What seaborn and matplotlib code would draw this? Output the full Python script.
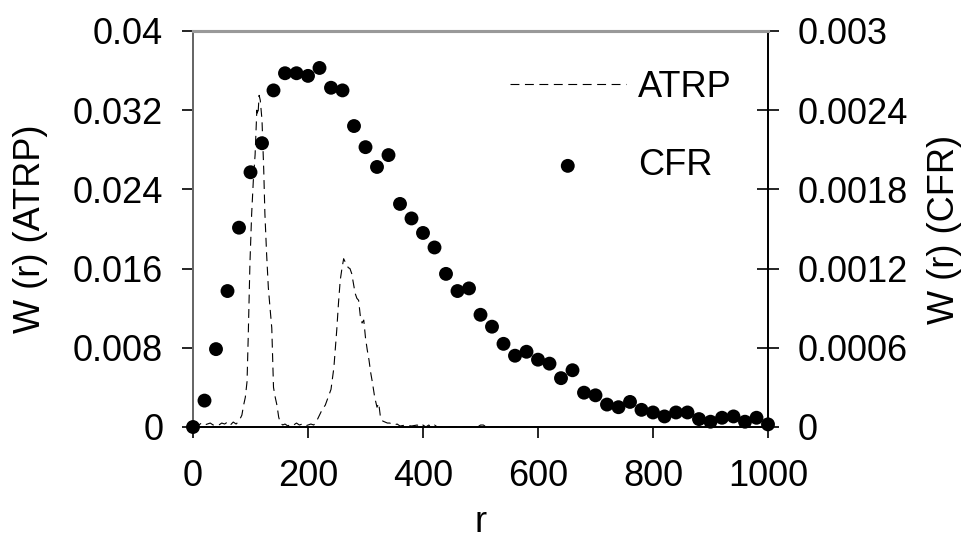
import numpy as np
import pandas as pd
import seaborn as sns
import matplotlib
matplotlib.use("Agg")
import matplotlib.pyplot as plt
from matplotlib.ticker import FixedLocator

# ---- data ----
# CFR: one point every 20 in r (right axis)
cfr_r = list(range(0, 1001, 20))
cfr_w = [0.0, 0.0002, 0.00059, 0.00103, 0.00151, 0.00193, 0.00215, 0.00255,
         0.00268, 0.00268, 0.00266, 0.00272, 0.00257, 0.00255, 0.00228, 0.00212,
         0.00197, 0.00206, 0.00169, 0.00158, 0.00147, 0.00136, 0.00116, 0.00103,
         0.00105, 0.00085, 0.00076, 0.00063, 0.00054, 0.00057, 0.00051, 0.00048,
         0.00037, 0.00043, 0.00026, 0.00024, 0.00017, 0.00015, 0.00019, 0.00013,
         0.00011, 0.00008, 0.00011, 0.00011, 0.00006, 0.00004, 0.00007, 0.00008,
         0.00004, 0.00007, 0.00002]

# ATRP: dashed curve (left axis)
atrp_r = [0, 5, 10, 15, 20, 25, 30, 35, 40, 45, 50, 55, 60, 65, 70, 75, 80, 85,
          88, 91, 94, 96, 99, 102, 105, 108, 111, 113, 115, 117, 120, 123, 125,
          128, 131, 134, 137, 140, 143, 146, 149, 152, 156, 160, 165, 170, 175,
          180, 185, 190, 195, 200, 205, 210, 215, 220, 225, 230, 235, 240, 245,
          250, 253, 256, 259, 262, 266, 270, 273, 276, 279, 282, 285, 288, 291,
          294, 297, 300, 303, 306, 309, 312, 316, 320, 323, 326, 330, 334, 338,
          342, 346, 350, 355, 360, 370, 380, 390, 395, 400, 405, 410, 415, 420,
          425, 460, 495, 500, 505, 510, 550, 600]
atrp_w = [0.0002, 0.0003, 0.0002, 0.0004, 0.0002, 0.0003, 0.0004, 0.0002,
          0.0003, 0.0002, 0.0004, 0.0003, 0.0005, 0.0002, 0.0005, 0.0003,
          0.0006, 0.0012, 0.0022, 0.0030, 0.0046, 0.0090, 0.0165, 0.0215,
          0.0250, 0.0275, 0.0320, 0.0315, 0.0335, 0.0330, 0.0310, 0.0260,
          0.0216, 0.0175, 0.0141, 0.0120, 0.0100, 0.0040, 0.0030, 0.0022,
          0.0010, 0.0004, 0.0002, 0.0003, 0.0001, 0.0003, 0.0002, 0.0004,
          0.0002, 0.0003, 0.0001, 0.0002, 0.0003, 0.0002, 0.0006, 0.0012,
          0.0018, 0.0022, 0.0030, 0.0038, 0.0060, 0.0098, 0.0125, 0.0148,
          0.0160, 0.0170, 0.0165, 0.0161, 0.0160, 0.0155, 0.0145, 0.0135,
          0.0130, 0.0128, 0.0112, 0.0105, 0.0108, 0.0090, 0.0078, 0.0068,
          0.0055, 0.0045, 0.0030, 0.0020, 0.0024, 0.0010, 0.0006, 0.0005,
          0.0004, 0.0004, 0.0003, 0.0002, 0.0003, 0.0001, 0.0002, 0.0001,
          0.0002, 0.0, 0.0002, 0.0, 0.0002, 0.0, 0.0002, 0.0, 0.0, 0.0,
          0.0002, 0.0002, 0.0, 0.0, 0.0]

xticks = [0, 200, 400, 600, 800, 1000]
left_ticks = [0, 0.008, 0.016, 0.024, 0.032, 0.04]
left_labels = ["0", "0.008", "0.016", "0.024", "0.032", "0.04"]
right_ticks = [0, 0.0006, 0.0012, 0.0018, 0.0024, 0.003]
right_labels = ["0", "0.0006", "0.0012", "0.0018", "0.0024", "0.003"]

df_atrp = pd.DataFrame({"r": atrp_r, "w": atrp_w})
df_cfr = pd.DataFrame({"r": cfr_r, "w": cfr_w})

#%% plot
sns.set_style("ticks")
plt.rcParams["font.family"] = ["Liberation Sans", "DejaVu Sans"]
plt.rcParams["text.color"] = "black"
plt.rcParams["axes.labelcolor"] = "black"
plt.rcParams["xtick.color"] = "black"
plt.rcParams["ytick.color"] = "black"
fs = 26

fig = plt.figure(figsize=(9.71, 5.33), dpi=100)
ax = fig.add_axes([193/971, 1 - 427/533, (768 - 193)/971, (427 - 31)/533])
ax2 = ax.twinx()

sns.lineplot(data=df_atrp, x="r", y="w", ax=ax, color="black", lw=0.8,
             legend=False)
line = ax.lines[0]
line.set_linestyle((0, (8, 5)))

sns.scatterplot(data=df_cfr, x="r", y="w", ax=ax2, color="black", s=100,
                edgecolor="none", clip_on=False, legend=False, zorder=5)

ax.set_xlim(0, 1000)
ax.set_ylim(0, 0.04)
ax2.set_ylim(0, 0.003)

ax.xaxis.set_major_locator(FixedLocator(xticks))
ax.set_xticklabels([str(t) for t in xticks])
ax.set_yticks(left_ticks)
ax.set_yticklabels(left_labels)
ax2.set_yticks(right_ticks)
ax2.set_yticklabels(right_labels)

ax.tick_params(axis="x", direction="out", length=8, width=1.2, pad=15,
               labelsize=fs, colors="black")
ax.tick_params(axis="y", direction="out", length=8, width=1.2, pad=13.5,
               labelsize=fs, colors="black")
ax2.tick_params(axis="y", direction="inout", length=16.5, width=1.2, pad=13.3,
                labelsize=fs, colors="black")

ax.set_xlabel("r", fontsize=fs, labelpad=8)
ax.set_ylabel("W (r) (ATRP)", fontsize=fs)
ax.yaxis.set_label_coords(-0.252, 0.5)
ax2.set_ylabel("W (r) (CFR)", fontsize=fs)
ax2.yaxis.set_label_coords(1.276, 0.5)

for a in (ax, ax2):
    for s in a.spines.values():
        s.set_visible(True)
    a.spines["left"].set_color("#666666")
    a.spines["left"].set_linewidth(1.3)
    a.spines["top"].set_color("#999999")
    a.spines["top"].set_linewidth(2.2)
    a.spines["right"].set_color("black")
    a.spines["right"].set_linewidth(1.3)
    a.spines["bottom"].set_color("black")
    a.spines["bottom"].set_linewidth(1.3)

h_line = ax.lines[0]
h_dot = ax2.collections[0]
fig.legend([h_line, h_dot], ["ATRP", "CFR"], loc="upper left",
           bbox_to_anchor=(510/971, 1 - 70/533), bbox_transform=fig.transFigure,
           frameon=False, fontsize=fs, handlelength=3.2, handletextpad=0.35,
           labelspacing=1.2, borderpad=0, borderaxespad=0, scatterpoints=1)

fig.savefig("out.png", dpi=100)
